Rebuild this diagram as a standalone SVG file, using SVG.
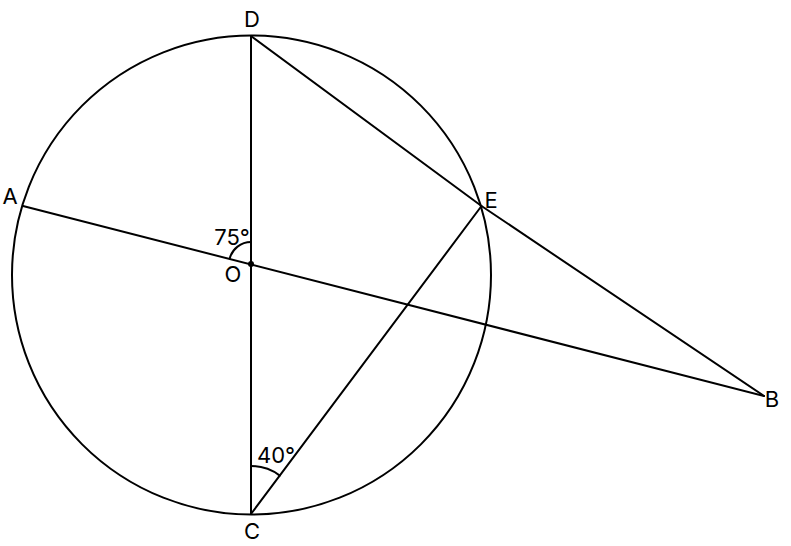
<svg xmlns="http://www.w3.org/2000/svg" width="791" height="546" viewBox="0 0 791 546">
<style>
.ln{fill:none;stroke:#000;stroke-width:2;stroke-linecap:round;stroke-linejoin:round}
.lb{font-family:Inter,"Liberation Sans",Arial,sans-serif;font-size:22px;fill:#000}
</style>
<rect width="791" height="546" fill="#fff"/>
<g id="circle"><circle class="ln" cx="251.5" cy="275" r="239.5"/></g>
<g id="connectors">
<line class="ln" x1="251" y1="36" x2="251" y2="514"/>
<line class="ln" x1="23" y1="206" x2="764" y2="396"/>
<polyline class="ln" points="251,36 481.5,206 764,396"/>
<line class="ln" x1="251" y1="514" x2="481.5" y2="206"/>
<path class="ln" d="M251,242 A22,22 0 0 0 229.7,258.5"/>
<path class="ln" d="M251,466 A48,48 0 0 1 279.8,475.6"/>
</g>
<g id="O"><circle cx="251" cy="264" r="3" fill="#000"/><text class="lb" x="233" y="282" text-anchor="middle">O</text></g>
<g id="A"><text class="lb" x="10" y="203.5" text-anchor="middle">A</text></g>
<g id="B"><text class="lb" x="772" y="406.5" text-anchor="middle">B</text></g>
<g id="C"><text class="lb" x="252" y="538.5" text-anchor="middle">C</text></g>
<g id="D"><text class="lb" x="252" y="27" text-anchor="middle">D</text></g>
<g id="E"><text class="lb" x="491" y="207.5" text-anchor="middle">E</text></g>
<g id="angle75"><text class="lb" x="232" y="244.5" text-anchor="middle">75°</text></g>
<g id="angle40"><text class="lb" x="276" y="462.5" text-anchor="middle">40°</text></g>
</svg>
